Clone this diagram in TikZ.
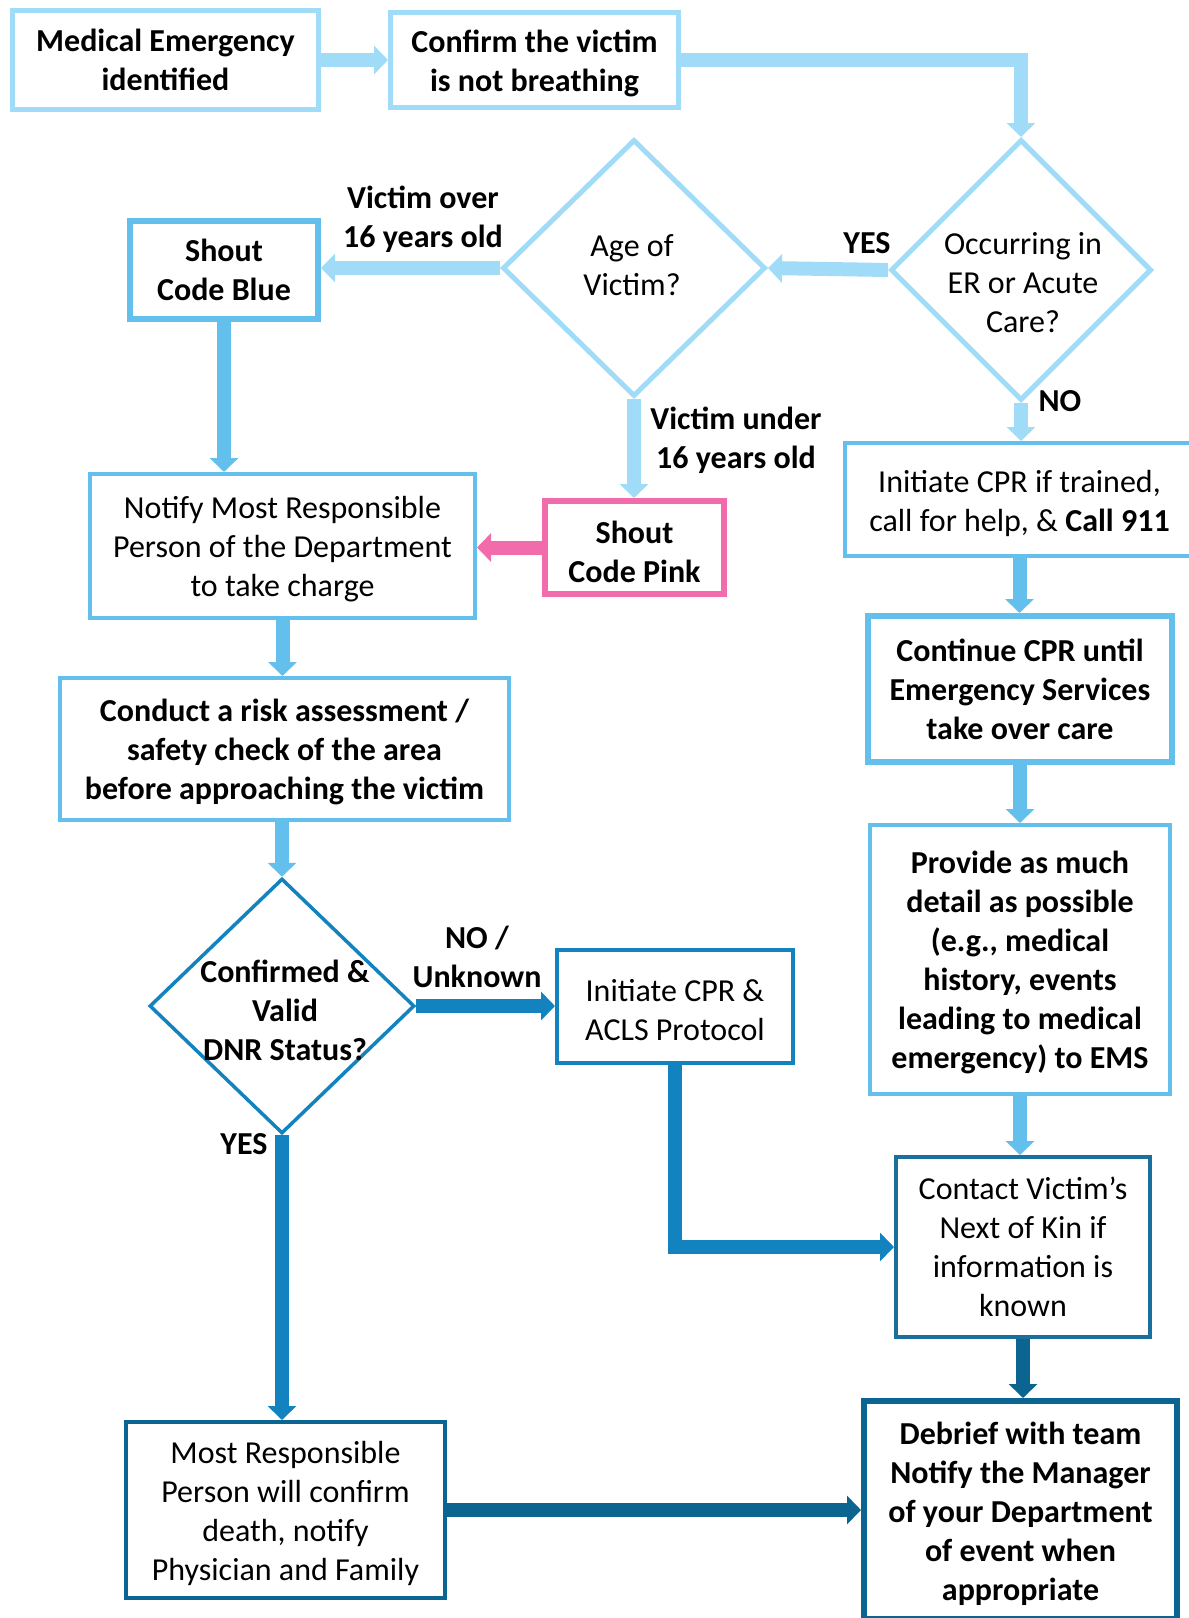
\documentclass[tikz,border=0pt]{standalone}
\usepackage{fontspec}
\setmainfont{Carlito}
\usetikzlibrary{shapes.geometric,arrows.meta}
\definecolor{lb}{HTML}{A0DCF8}
\definecolor{mb}{HTML}{63BFEC}
\definecolor{db}{HTML}{1283BE}
\definecolor{cb}{HTML}{1A6F9C}
\definecolor{nb}{HTML}{0B6590}
\definecolor{pk}{HTML}{F26BAA}
\newcommand{\tpa}{\rule{0pt}{29pt}}
\newcommand{\tpb}{\rule{0pt}{31pt}}
\tikzset{
  txt/.style={font=\fontsize{32}{39}\selectfont, align=center, text=black, inner sep=0pt},
  bft/.style={font=\fontsize{32}{39}\selectfont\bfseries, align=center, text=black, inner sep=0pt},
  bx/.style={draw, rectangle, fill=white},
  dm/.style={draw, diamond, aspect=1, inner sep=0pt, fill=white},
  arr/.style={line width=14pt, -{Triangle[width=28pt,length=14pt]}, line join=miter},
}
\begin{document}
\begin{tikzpicture}[x=1pt,y=-1pt]
\useasboundingbox (0,0) rectangle (1189,1618);
% boxes
\node[bx, bft, draw=lb, line width=5pt, minimum width=306, minimum height=99] (me) at (165.5,60) {Medical Emergency\\identified};
\node[bx, bft, draw=lb, line width=5pt, minimum width=288, minimum height=95] (cv) at (534.5,60) {\tpa Confirm the victim\\is not breathing};
\node[bx, bft, draw=mb, line width=6pt, minimum width=188, minimum height=98] (blue) at (224,270) {Shout\\Code Blue};
\node[bx, bft, draw=pk, line width=6pt, minimum width=179, minimum height=93] (pink) at (634.5,547.5) {\tpb Shout\\Code Pink};
\node[bx, txt, draw=mb, line width=4pt, minimum width=385, minimum height=144] (notify) at (282.5,546) {\tpa Notify Most Responsible\\Person of the Department\\to take charge};
\node[bx, bft, draw=mb, line width=4pt, minimum width=449, minimum height=142] (risk) at (284.5,749) {\tpa Conduct a risk assessment /\\safety check of the area\\before approaching the victim};
\node[bx, txt, draw=db, line width=4pt, minimum width=236, minimum height=113] (acls) at (675,1006.5) {\tpa Initiate CPR \&\\ACLS Protocol};
\node[bx, txt, draw=mb, line width=4pt, minimum width=349, minimum height=113] (init) at (1019.5,499.5) {\tpb Initiate CPR if trained,\\call for help, \& \textbf{Call 911}};
\node[bx, bft, draw=mb, line width=6pt, minimum width=304, minimum height=146] (cont) at (1020,689) {Continue CPR until\\Emergency Services\\take over care};
\node[bx, bft, draw=mb, line width=4pt, minimum width=300, minimum height=269] (prov) at (1020,959.5) {\tpa Provide as much\\detail as possible\\(e.g., medical\\history, events\\leading to medical\\emergency) to EMS};
\node[bx, txt, draw=cb, line width=4pt, minimum width=254, minimum height=180] (kin) at (1023,1247) {Contact Victim’s\\Next of Kin if\\information is\\known};
\node[bx, txt, draw=nb, line width=4pt, minimum width=319, minimum height=176] (most) at (285.5,1510) {\tpa Most Responsible\\Person will confirm\\death, notify\\Physician and Family};
\node[bx, bft, draw=nb, line width=6pt, minimum width=313, minimum height=218] (deb) at (1020.5,1510) {\tpa Debrief with team\\Notify the Manager\\of your Department\\of event when\\appropriate};
% diamonds
\node[dm, draw=lb, line width=5pt, minimum width=263, minimum height=257] (age) at (634,268) {};
\node[txt] (agetxt) at (632,265) {Age of\\Victim?};
\node[dm, draw=lb, line width=5pt, minimum width=261, minimum height=261] (occ) at (1021,270) {};
\node[txt] (occtxt) at (1023,283) {Occurring in\\ER or Acute\\Care?};
\node[dm, draw=db, line width=3.5pt, minimum width=265, minimum height=255] (dnr) at (282,1006) {};
\node[bft] (dnrtxt) at (285,1010) {Confirmed \&\\Valid\\DNR Status?};
% labels
\node[bft] (lover) at (423,219) {Victim over\\16 years old};
\node[bft] (lyes1) at (867,243) {YES};
\node[bft] (lno1) at (1060,401) {NO};
\node[bft] (lunder) at (736,440) {Victim under\\16 years old};
\node[bft] (lnou) at (477,957) {NO /\\Unknown};
\node[bft] (lyes2) at (244,1144) {YES};
% arrows
\draw[arr, lb] (me.east) -- (cv.west);
\draw[arr, lb] (cv.east) -| (occ.north);
\draw[arr, lb] (occ.west) -- (age.east);
\draw[arr, lb] (age.west) -- (age.west -| blue.east);
\draw[arr, lb] (age.south) -- (age.south |- pink.north);
\draw[arr, lb] (occ.south) -- (occ.south |- init.north);
\draw[arr, mb] (blue.south) -- (blue.south |- notify.north);
\draw[arr, pk] (pink.west) -- (pink.west -| notify.east);
\draw[arr, mb] (notify.south) -- (notify.south |- risk.north);
\draw[arr, mb] (dnr.north |- risk.south) -- (dnr.north);
\draw[arr, db] (dnr.east) -- (dnr.east -| acls.west);
\draw[arr, db] (dnr.south) -- (dnr.south |- most.north);
\draw[arr, db] (acls.south) |- (kin.west);
\draw[arr, mb] (init.south) -- (init.south |- cont.north);
\draw[arr, mb] (cont.south) -- (cont.south |- prov.north);
\draw[arr, mb] (prov.south) -- (prov.south |- kin.north);
\draw[arr, nb] (kin.south) -- (kin.south |- deb.north);
\draw[arr, nb] (most.east) -- (most.east -| deb.west);
\end{tikzpicture}
\end{document}
